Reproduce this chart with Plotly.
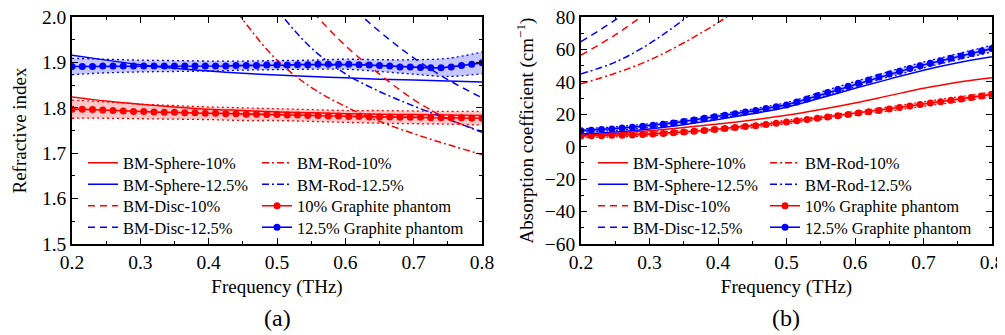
import plotly.graph_objects as go

# ---------------- data ----------------
f_model = [0.20, 0.25, 0.30, 0.35, 0.40, 0.45, 0.50, 0.55, 0.60, 0.65, 0.70, 0.75, 0.80]

# Refractive index, models
n_sphere_10 = [1.824, 1.815, 1.808, 1.802, 1.797, 1.794, 1.791, 1.789, 1.787, 1.786, 1.785, 1.784, 1.783]
n_sphere_125 = [1.916, 1.905, 1.895, 1.887, 1.881, 1.876, 1.872, 1.869, 1.866, 1.863, 1.861, 1.859, 1.857]
n_disc_10 = [2.56, 2.48, 2.40, 2.33, 2.26, 2.18, 2.10, 2.015, 1.937, 1.874, 1.818, 1.776, 1.748]
n_disc_125 = [2.62, 2.545, 2.47, 2.395, 2.32, 2.245, 2.17, 2.10, 2.035, 1.968, 1.910, 1.862, 1.822]
n_rod_10 = [2.52, 2.41, 2.31, 2.21, 2.10, 1.994, 1.905, 1.845, 1.803, 1.770, 1.743, 1.719, 1.697]
n_rod_125 = [2.55, 2.46, 2.37, 2.28, 2.19, 2.10, 2.015, 1.932, 1.875, 1.836, 1.804, 1.775, 1.746]

# Absorption coefficient, models
a_sphere_10 = [7.2, 8.2, 9.8, 11.8, 14.0, 16.5, 19.4, 23.0, 27.0, 31.5, 36.0, 39.8, 42.6]
a_sphere_125 = [7.8, 9.0, 11.0, 13.6, 16.8, 20.3, 24.3, 30.0, 36.0, 41.7, 47.2, 51.8, 55.5]
a_disc_10 = [56.5, 69.0, 84.0, 101.0, 120.0, 141.0, 164.0, 189.0, 216.0, 245.0, 276.0, 309.0, 344.0]
a_disc_125 = [64.8, 78.2, 94.0, 112.0, 132.0, 154.0, 178.0, 204.0, 232.0, 262.0, 294.0, 328.0, 364.0]
a_rod_10 = [38.8, 45.3, 53.4, 64.1, 76.5, 91.0, 107.0, 125.0, 145.0, 167.0, 191.0, 217.0, 245.0]
a_rod_125 = [44.9, 52.2, 63.6, 78.5, 96.0, 115.0, 136.0, 159.0, 184.0, 211.0, 240.0, 271.0, 304.0]

# Measured (graphite phantoms)
f_meas = [0.200, 0.215, 0.230, 0.245, 0.260, 0.275, 0.290, 0.305, 0.320, 0.335,
          0.350, 0.365, 0.380, 0.395, 0.410, 0.425, 0.440, 0.455, 0.470, 0.485,
          0.500, 0.515, 0.530, 0.545, 0.560, 0.575, 0.590, 0.605, 0.620, 0.635,
          0.650, 0.665, 0.680, 0.695, 0.710, 0.725, 0.740, 0.755, 0.770, 0.785, 0.800]
n_meas_10 = [1.797, 1.797, 1.796, 1.795, 1.794, 1.793, 1.792, 1.792, 1.791, 1.790,
             1.790, 1.789, 1.789, 1.788, 1.788, 1.787, 1.787, 1.786, 1.786, 1.785,
             1.785, 1.784, 1.784, 1.783, 1.783, 1.782, 1.782, 1.781, 1.781, 1.780,
             1.780, 1.780, 1.779, 1.779, 1.779, 1.778, 1.778, 1.778, 1.778, 1.777, 1.777]
n_meas_125 = [1.891, 1.891, 1.891, 1.892, 1.892, 1.892, 1.892, 1.892, 1.892, 1.892,
              1.892, 1.892, 1.892, 1.892, 1.892, 1.892, 1.893, 1.893, 1.893, 1.894,
              1.894, 1.894, 1.895, 1.895, 1.896, 1.896, 1.896, 1.896, 1.895, 1.894,
              1.893, 1.892, 1.890, 1.890, 1.889, 1.888, 1.888, 1.890, 1.893, 1.896, 1.899]
a_meas_10 = [6.6, 6.7, 6.8, 7.0, 7.1, 7.3, 7.6, 7.9, 8.2, 8.6,
             9.0, 9.5, 10.0, 10.6, 11.2, 11.8, 12.4, 13.0, 13.7, 14.4,
             15.2, 16.0, 16.8, 17.5, 18.3, 19.1, 19.9, 20.8, 21.6, 22.4,
             23.3, 24.2, 25.1, 26.0, 26.9, 27.7, 28.6, 29.5, 30.4, 31.3, 32.3]
a_meas_125 = [9.9, 10.2, 10.6, 11.0, 11.5, 12.0, 12.6, 13.2, 13.9, 14.7,
              15.6, 16.5, 17.5, 18.5, 19.4, 20.4, 21.4, 22.4, 23.5, 24.6,
              25.8, 27.6, 29.5, 31.5, 33.4, 35.3, 37.3, 39.2, 41.1, 43.0,
              44.8, 46.5, 48.3, 49.9, 51.5, 53.0, 54.5, 56.0, 57.5, 59.0, 60.5]

# Measurement uncertainty bands (on f_model grid)
n_band_10_hi = [1.817, 1.813, 1.808, 1.805, 1.802, 1.800, 1.798, 1.796, 1.794, 1.794, 1.793, 1.792, 1.792]
n_band_10_lo = [1.777, 1.777, 1.776, 1.775, 1.774, 1.772, 1.772, 1.770, 1.768, 1.766, 1.765, 1.764, 1.762]
n_band_125_hi = [1.909, 1.907, 1.905, 1.904, 1.903, 1.903, 1.904, 1.905, 1.907, 1.906, 1.906, 1.909, 1.923]
n_band_125_lo = [1.873, 1.877, 1.879, 1.880, 1.881, 1.883, 1.884, 1.885, 1.885, 1.880, 1.874, 1.869, 1.875]
a_band_10_hi = [7.6, 8.0, 8.9, 10.1, 11.9, 13.9, 16.3, 18.9, 21.7, 24.6, 27.7, 30.7, 33.9]
a_band_10_lo = [5.6, 6.0, 6.7, 7.9, 9.7, 11.7, 14.1, 16.7, 19.3, 22.0, 24.9, 27.7, 30.7]
a_band_125_hi = [11.0, 12.3, 14.2, 16.8, 20.0, 23.3, 27.2, 33.7, 40.2, 46.5, 52.2, 57.4, 62.6]
a_band_125_lo = [8.8, 10.1, 11.8, 14.4, 17.6, 20.7, 24.4, 30.7, 37.0, 43.1, 48.6, 53.6, 58.4]

x_ticks = [0.2, 0.3, 0.4, 0.5, 0.6, 0.7, 0.8]
n_ticks = [1.5, 1.6, 1.7, 1.8, 1.9, 2.0]
a_ticks = [-60, -40, -20, 0, 20, 40, 60, 80]

# ---------------- styling ----------------
RED = "#FF0000"
BLUE = "#0000FF"
FONT = "Liberation Serif"
DASH = "7px,5px"
DASHDOT = "7px,3px,2px,3px"
DOT = "2px,3px"

OFF = 8                      # page body margin
W, H = 1005 - OFF, 335 - OFF
ML, MR, MT, MB = 72 - OFF, 13, 17 - OFF, 91
PW = W - ML - MR
PH = H - MT - MB


def px2x(px):
    """absolute window x pixel -> paper coordinate"""
    return (px - OFF - ML) / PW


def py2y(py):
    """absolute window y pixel -> paper coordinate"""
    return (H - MB - (py - OFF)) / PH


fig = go.Figure()

panels = [
    dict(xa="x", ya="y",
         models=[n_sphere_10, n_sphere_125, n_disc_10, n_disc_125, n_rod_10, n_rod_125],
         meas=[n_meas_10, n_meas_125],
         bands=[(n_band_10_lo, n_band_10_hi), (n_band_125_lo, n_band_125_hi)],
         leg_x=[83, 257]),
    dict(xa="x2", ya="y2",
         models=[a_sphere_10, a_sphere_125, a_disc_10, a_disc_125, a_rod_10, a_rod_125],
         meas=[a_meas_10, a_meas_125],
         bands=[(a_band_10_lo, a_band_10_hi), (a_band_125_lo, a_band_125_hi)],
         leg_x=[593, 765]),
]

model_names = ["BM-Sphere-10%", "BM-Sphere-12.5%", "BM-Disc-10%", "BM-Disc-12.5%",
               "BM-Rod-10%", "BM-Rod-12.5%"]
model_colors = [RED, BLUE, RED, BLUE, RED, BLUE]
model_dash = ["solid", "solid", DASH, DASH, DASHDOT, DASHDOT]
model_pos = [(0, 0), (0, 1), (0, 2), (0, 3), (1, 0), (1, 1)]
meas_names = ["10% Graphite phantom", "12.5% Graphite phantom"]
meas_colors = [RED, BLUE]
meas_pos = [(1, 2), (1, 3)]
fills = ["rgba(255,0,0,0.22)", "rgba(0,0,255,0.22)"]

row_py = [163, 184.5, 206, 227.5]
legends = {}
leg_count = 0


def new_legend(px, py):
    global leg_count
    leg_count += 1
    key = "legend" if leg_count == 1 else f"legend{leg_count}"
    legends[key] = dict(x=px2x(px), y=py2y(py), xanchor="left", yanchor="middle",
                        bgcolor="rgba(0,0,0,0)", borderwidth=0,
                        font=dict(family=FONT, size=16.5, color="black"))
    return key


for p in panels:
    # bands
    for (lo, hi), c, fc in zip(p["bands"], meas_colors, fills):
        fig.add_trace(go.Scatter(x=f_model, y=lo, mode="lines", xaxis=p["xa"], yaxis=p["ya"],
                                 line=dict(color=c, width=1.3, dash=DOT, shape="spline"),
                                 showlegend=False, hoverinfo="skip"))
        fig.add_trace(go.Scatter(x=f_model, y=hi, mode="lines", xaxis=p["xa"], yaxis=p["ya"],
                                 line=dict(color=c, width=1.3, dash=DOT, shape="spline"),
                                 fill="tonexty", fillcolor=fc,
                                 showlegend=False, hoverinfo="skip"))
    # models
    for vals, name, c, d, (col, row) in zip(p["models"], model_names, model_colors,
                                            model_dash, model_pos):
        key = new_legend(p["leg_x"][col], row_py[row])
        fig.add_trace(go.Scatter(x=f_model, y=vals, mode="lines", name=name,
                                 xaxis=p["xa"], yaxis=p["ya"], legend=key,
                                 line=dict(color=c, width=1.5, dash=d, shape="spline")))
    # measured
    for vals, name, c, (col, row) in zip(p["meas"], meas_names, meas_colors, meas_pos):
        key = new_legend(p["leg_x"][col], row_py[row])
        fig.add_trace(go.Scatter(x=f_meas, y=vals, mode="lines+markers", name=name,
                                 xaxis=p["xa"], yaxis=p["ya"], legend=key,
                                 line=dict(color=c, width=1.6),
                                 marker=dict(color=c, size=7, symbol="circle")))

axis_common = dict(showline=True, linecolor="black", linewidth=1.5, mirror="allticks",
                   ticks="inside", ticklen=6, tickwidth=1, tickcolor="black",
                   showgrid=False, zeroline=False, ticklabeloverflow="allow",
                   tickfont=dict(family=FONT, size=19.5, color="black"))

xcommon = dict(axis_common, range=[0.2, 0.8], tickvals=x_ticks, tickformat=".1f",
               minor=dict(dtick=0.05, ticks="inside", ticklen=3, tickcolor="black", showgrid=False),
               title=dict(text="Frequency (THz)", font=dict(family=FONT, size=19, color="black"),
                          standoff=8))

fig.update_layout(
    width=W, height=H, margin=dict(l=ML, r=MR, t=MT, b=MB, autoexpand=False),
    paper_bgcolor="white", plot_bgcolor="white",
    xaxis=dict(xcommon, domain=[0, px2x(482)], anchor="y"),
    xaxis2=dict(xcommon, domain=[px2x(581), 1], anchor="y2"),
    yaxis=dict(axis_common, range=[1.5, 2.0], tickvals=n_ticks, tickformat=".1f", anchor="x",
               minor=dict(dtick=0.05, ticks="inside", ticklen=3, tickcolor="black", showgrid=False),
               title=dict(text="Refractive index", font=dict(family=FONT, size=19, color="black"),
                          standoff=10)),
    yaxis2=dict(axis_common, range=[-60, 80], tickvals=a_ticks, anchor="x2",
                minor=dict(dtick=10, ticks="inside", ticklen=3, tickcolor="black", showgrid=False),
                title=dict(text="Absorption coefficient (cm<sup>−1</sup>)",
                           font=dict(family=FONT, size=19, color="black"), standoff=6)),
    annotations=[
        dict(text="(a)", x=px2x(277), y=py2y(318), xref="paper", yref="paper",
             xanchor="center", yanchor="middle",
             showarrow=False, font=dict(family=FONT, size=24, color="black")),
        dict(text="(b)", x=px2x(786), y=py2y(318), xref="paper", yref="paper",
             xanchor="center", yanchor="middle",
             showarrow=False, font=dict(family=FONT, size=24, color="black")),
    ],
    **legends,
)

fig.write_html("out.html")
